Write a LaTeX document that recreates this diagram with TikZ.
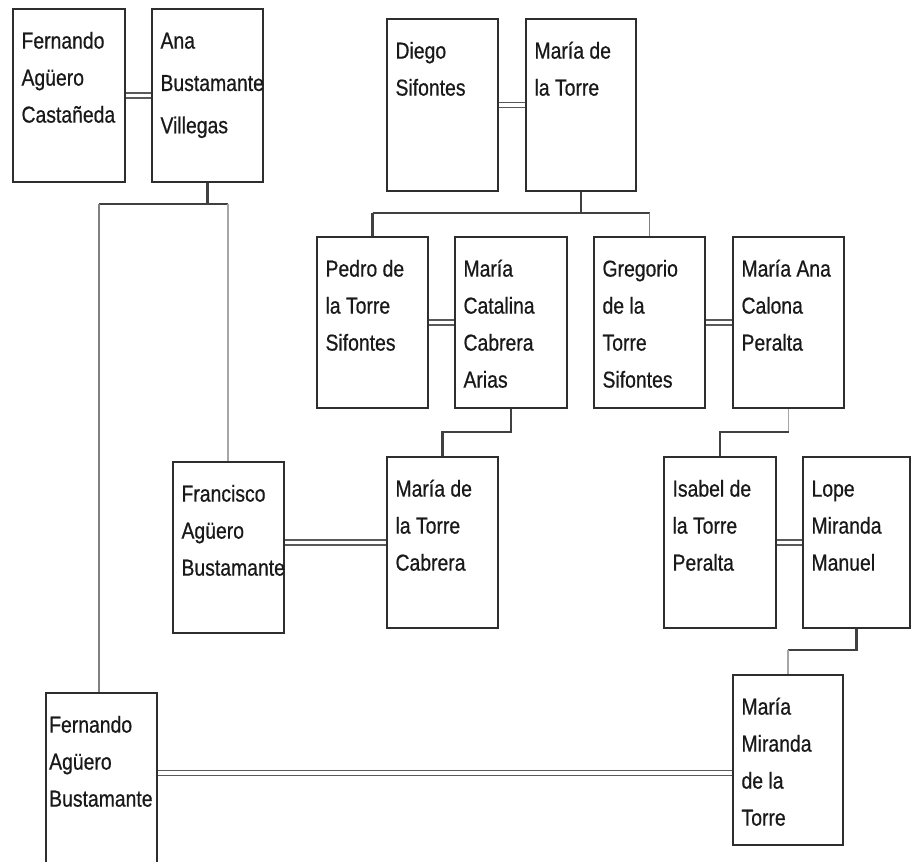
\documentclass[tikz,border=0pt]{standalone}
\usepackage{fontspec}
\setmainfont[FakeStretch=0.84,FakeBold=0.6]{Liberation Sans}
\newcommand\personbox[7][7pt]{%
  \node[box, minimum width={(#5-#3)*0.75pt}, minimum height={(#6-#4)*0.75pt}] (#2) at ({(#3+#5)/2},{(#4+#6)/2}) {};
  \node[pname] (#2-t) at ([xshift=#1,yshift=-30.5pt]#2.north west) {\parbox[t]{100pt}{#7}};
}
\begin{document}
\begin{tikzpicture}[x=0.75pt,y=-0.75pt,
  box/.style={draw=black!82, line width=1.6pt, fill=white, inner sep=0pt, rectangle},
  pname/.style={anchor=base west, inner sep=0pt, text=black!90, font=\fontsize{17.3pt}{27.75pt}\selectfont},
  marr/.style={draw=black!65, line width=1.3pt, double=white, double distance=2.4pt},
  desc/.style={draw=black!75, line width=1.6pt},
  descm/.style={draw=black!50, line width=1.1pt},
  descl/.style={draw=black!35, line width=0.8pt}]
\useasboundingbox (0,0) rectangle (912,861);
\fill[white] (0,0) rectangle (912,861);
\clip (0,0) rectangle (912,861);

\personbox{f1}{13}{9}{125}{182}{Fernando\\Agüero\\Castañeda}
\personbox{f2}{152}{9}{263}{182}{Ana\\[4pt]Bustamante\\[4pt]Villegas}
\personbox{d1}{387}{19}{498}{191}{Diego\\Sifontes}
\personbox{d2}{526}{19}{636}{191}{María de\\la Torre}
\personbox{p1}{317}{237}{428}{408}{Pedro de\\la Torre\\Sifontes}
\personbox{c1}{455}{237}{567}{408}{María\\Catalina\\Cabrera\\Arias}
\personbox{g1}{594}{237}{705}{408}{Gregorio\\de la\\Torre\\Sifontes}
\personbox{a1}{733}{237}{844}{408}{María Ana\\Calona\\Peralta}
\personbox{fr}{173}{462}{284}{633}{Francisco\\Agüero\\Bustamante}
\personbox{mc}{387}{457}{498}{628}{María de\\la Torre\\Cabrera}
\personbox{is}{664}{457}{776}{628}{Isabel de\\la Torre\\Peralta}
\personbox{lo}{803}{457}{910}{628}{Lope\\Miranda\\Manuel}
\personbox[3pt]{fb}{46}{693}{157}{900}{Fernando\\Agüero\\Bustamante}
\personbox{mm}{733}{675}{843}{845}{María\\Miranda\\de la\\Torre}

% marriages
\draw[marr] (f1.east) -- (f2.west);
\draw[marr] (d1.east) -- (d2.west);
\draw[marr] (p1.east) -- (c1.west);
\draw[marr] (g1.east) -- (a1.west);
\draw[marr] (fr.east |- mc.west) -- (mc.west);
\draw[marr] (is.east) -- (lo.west);
\draw[marr] ([yshift=-9.75pt]mm.west) -- ([yshift=-9.75pt]mm.west -| fb.east);

% descents
\coordinate (j1l) at (99,204);
\coordinate (j1r) at (228,204);
\draw[desc] (f2.south) -- (f2.south |- j1l);
\draw[desc] (j1l) -- (j1r);
\draw[descm] (j1l) -- (j1l |- fb.north);
\draw[descl] (j1r) -- (j1r |- fr.north);

\coordinate (j2l) at (p1.north |- 0,213);
\coordinate (j2r) at (g1.north |- 0,213);
\draw[desc] (d2.south) -- (d2.south |- j2l);
\draw[desc] (j2l) -- (j2r);
\draw[desc] (j2l) -- (p1.north);
\draw[descm] (j2r) -- (g1.north);

\draw[desc] (c1.south) -- (c1.south |- 0,432) -- (mc.north |- 0,432) -- (mc.north);
\draw[descl] (a1.south) -- (a1.south |- 0,432);
\draw[desc] (a1.south |- 0,432) -- (is.north |- 0,432) -- (is.north);
\draw[desc] (lo.south) -- (lo.south |- 0,650) -- (mm.north |- 0,650);
\draw[descl] (mm.north |- 0,650) -- (mm.north);
\end{tikzpicture}
\end{document}
